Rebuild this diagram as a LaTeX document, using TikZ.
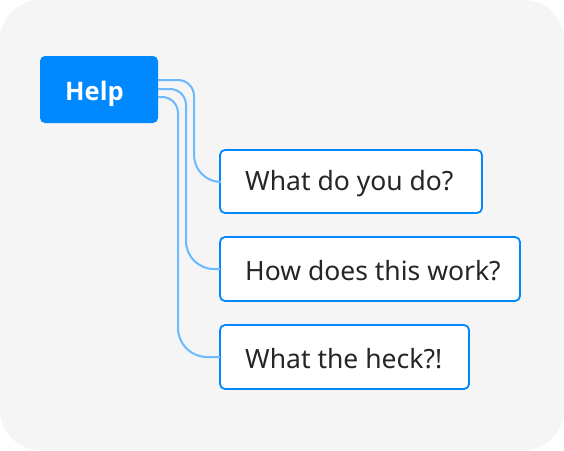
\documentclass[tikz,border=0pt]{standalone}
\usepackage{fontspec}
\setmainfont{Noto Sans}
\newfontfamily\rootfont{Open Sans}
\begin{document}
\begin{tikzpicture}[x=1pt,y=-1pt,
  panel/.style={fill=black!4, draw=none, rounded corners=40pt},
  root/.style={fill=rootblue, rounded corners=5pt},
  leaf/.style={fill=white, draw=rootblue, line width=1.8pt, rounded corners=5pt},
  lbl/.style={anchor=west, inner sep=0pt, font=\fontsize{26.5}{30}\selectfont, text=black!85},
  link/.style={draw=linkblue, line width=2pt}]
\definecolor{rootblue}{HTML}{0088FF}
\definecolor{linkblue}{HTML}{6BB9FF}
\useasboundingbox (0,0) rectangle (564,450);
\fill[white] (0,0) rectangle (564,450);
\path[panel] (0,0) rectangle (564,450);
% root box
\path[root] (40,56) rectangle (158,123);
\node[anchor=west, inner sep=0pt, text=white, font=\rootfont\bfseries\fontsize{25.5}{30}\selectfont] (help) at (65,93.5) {Help};
\coordinate (h1) at (158,80);
\coordinate (h2) at (158,89);
\coordinate (h3) at (158,97);
% leaf boxes
\path[leaf] (220,150) rectangle (482,213);
\path[leaf] (220,237) rectangle (520,301);
\path[leaf] (220,325) rectangle (469,389);
\node[lbl] (q1) at (245,184) {What do you do?};
\node[lbl] (q2) at (245,271) {How does this work?};
\node[lbl] (q3) at (245,359) {What the heck?!};
\coordinate (e1) at (220,182);
\coordinate (e2) at (220,269);
\coordinate (e3) at (220,357);
% connectors
\draw[link] (h1) [rounded corners=16pt] -- (194,80) -- (194,140) [rounded corners=27pt] -- (194,182) -- (e1);
\draw[link] (h2) [rounded corners=16pt] -- (186,89) -- (186,220) [rounded corners=28pt] -- (186,269) -- (e2);
\draw[link] (h3) [rounded corners=16pt] -- (178,97) -- (178,300) [rounded corners=29pt] -- (178,357) -- (e3);
\end{tikzpicture}
\end{document}
